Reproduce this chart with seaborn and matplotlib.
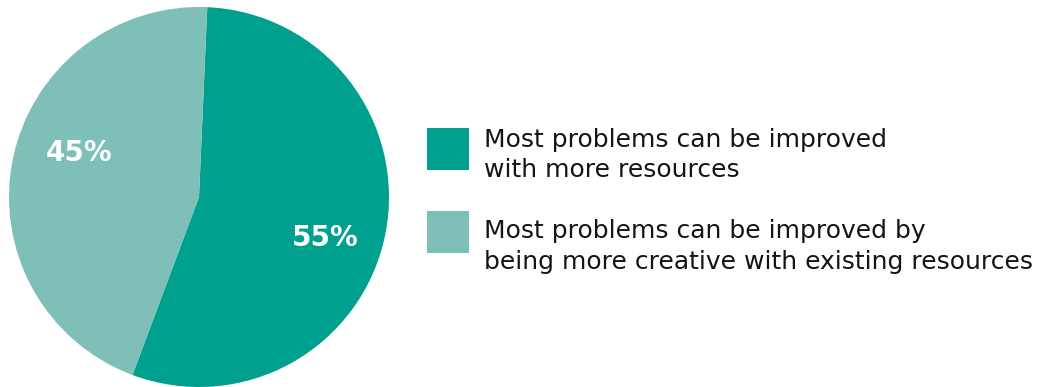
import matplotlib
matplotlib.use("Agg")
import matplotlib.pyplot as plt
from matplotlib.patches import Rectangle
import seaborn as sns

# Survey answers and their shares
answers = [
    "Most problems can be improved\nwith more resources",
    "Most problems can be improved by\nbeing more creative with existing resources",
]
shares = [55, 45]
pct_labels = ["55%", "45%"]
colors = ["#00A08F", "#7EBFB8"]

sns.set_theme(style="white")
plt.rcParams["font.family"] = ["DejaVu Sans"]

W, H = 1045, 387
fig = plt.figure(figsize=(W / 100, H / 100), dpi=100)
fig.patch.set_facecolor("white")

# Pie axes: centre at (199, 197) px, radius 190 px
cx, cy, r = 199, 197, 190
ax = fig.add_axes([(cx - r) / W, (H - cy - r) / H, 2 * r / W, 2 * r / H])
wedges, _ = ax.pie(
    shares,
    colors=colors,
    startangle=87.5,
    counterclock=False,
    radius=1,
    wedgeprops=dict(linewidth=0),
)
ax.set_xlim(-1, 1)
ax.set_ylim(-1, 1)
ax.set_aspect("equal")
ax.axis("off")

# Percentage labels inside the slices
label_pos = [(0.665, -0.215), (-0.63, 0.23)]
for (lx, ly), txt in zip(label_pos, pct_labels):
    ax.text(lx, ly, txt, ha="center", va="center", color="white",
            fontsize=20, fontweight="bold")

# Legend: coloured squares with two-line descriptions
sq_x, sq_w = 427, 42
sq_tops = [128, 211]
baselines = [146.7, 238.3]
line_gap = 30.5
for top, base, col, txt in zip(sq_tops, baselines, colors, answers):
    fig.patches.append(Rectangle(((sq_x) / W, (H - top - sq_w) / H), sq_w / W, sq_w / H,
                                 transform=fig.transFigure, color=col, linewidth=0))
    for i, line in enumerate(txt.split("\n")):
        fig.text(484 / W, (H - base - i * line_gap) / H, line, ha="left", va="baseline",
                 fontsize=18, color="#141414")

fig.savefig("out.png", dpi=100, facecolor="white")
